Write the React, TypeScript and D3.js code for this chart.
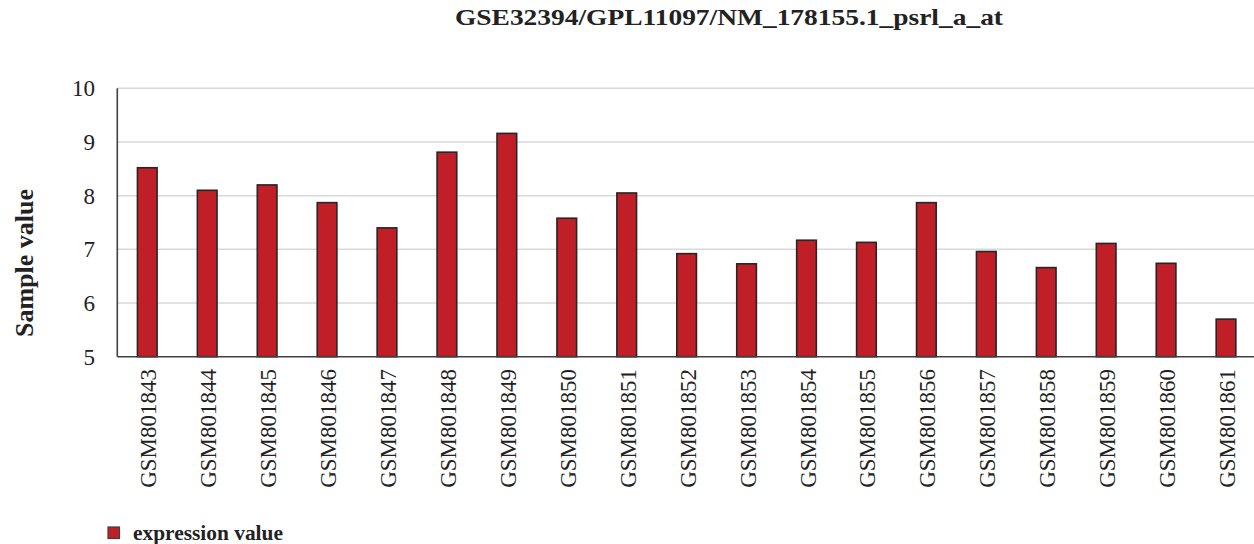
import React from "react";
import * as d3 from "d3";

const categories = [
  "GSM801843", "GSM801844", "GSM801845", "GSM801846", "GSM801847", "GSM801848",
  "GSM801849", "GSM801850", "GSM801851", "GSM801852", "GSM801853", "GSM801854",
  "GSM801855", "GSM801856", "GSM801857", "GSM801858", "GSM801859", "GSM801860", "GSM801861",
];
const values = [
  8.52, 8.10, 8.20, 7.87, 7.40, 8.81, 9.16, 7.58, 8.05, 6.92, 6.73, 7.17,
  7.13, 7.87, 6.96, 6.66, 7.11, 6.74, 5.70,
];
const yTicks = [5, 6, 7, 8, 9, 10];
const title = "GSE32394/GPL11097/NM_178155.1_psrl_a_at";
const yLabel = "Sample value";
const seriesName = "expression value";

export default function App() {
  const W = 1254, H = 544;
  const left = 117.3, top = 88.3, bottom = 356.7;
  const band = 59.93;
  const x = d3.scaleBand<string>()
    .domain(categories)
    .range([left, left + band * categories.length])
    .paddingInner(0.672)
    .paddingOuter(0.336);
  const y = d3.scaleLinear().domain([5, 10]).range([bottom, top]);
  const ff = { fontFamily: '"Liberation Serif", "Times New Roman", Times, serif' };
  return (
    <svg width={W} height={H} style={{ position: "absolute", left: 0, top: 0, ...ff }}>
      <rect x={0} y={0} width={W} height={H} fill="#fff" />
      <text x={729} y={25} textAnchor="middle" fontWeight="bold" fontSize={24} style={ff}
        textLength={548} lengthAdjust="spacingAndGlyphs" fill="#222">{title}</text>
      {yTicks.map((t) => (
        <g key={t}>
          {t !== 5 && (
            <line x1={left} x2={W} y1={y(t)} y2={y(t)} stroke="#d9d9d9" strokeWidth={1.5} />
          )}
          <text x={95} y={y(t)} dy="0.35em" textAnchor="end" fontSize={23} style={ff} fill="#222">{t}</text>
        </g>
      ))}
      {categories.map((c, i) => (
        <rect key={c} x={x(c)!} y={y(values[i])} width={x.bandwidth()} height={bottom - y(values[i])}
          fill="#c01f27" stroke="#262626" strokeWidth={1.6} />
      ))}
      <line x1={left} x2={left} y1={top} y2={bottom} stroke="#404040" strokeWidth={1.6} />
      <line x1={left} x2={W} y1={bottom} y2={bottom} stroke="#404040" strokeWidth={1.6} />
      {categories.map((c) => {
        const cx = x(c)! + x.bandwidth() / 2;
        return (
          <text key={c} transform={`translate(${cx + 1},${369}) rotate(-90)`} dy="0.35em"
            textAnchor="end" fontSize={23} style={ff} fill="#222">{c}</text>
        );
      })}
      <text transform={`translate(33,263) rotate(-90)`} textAnchor="middle" fontWeight="bold"
        fontSize={26} style={ff} fill="#222">{yLabel}</text>
      <rect x={108} y={527} width={11.5} height={11.5} fill="#c01f27" stroke="#404040" strokeWidth={1.2} />
      <text x={133} y={540} fontWeight="bold" fontSize={21.4} style={ff} fill="#222">{seriesName}</text>
    </svg>
  );
}
